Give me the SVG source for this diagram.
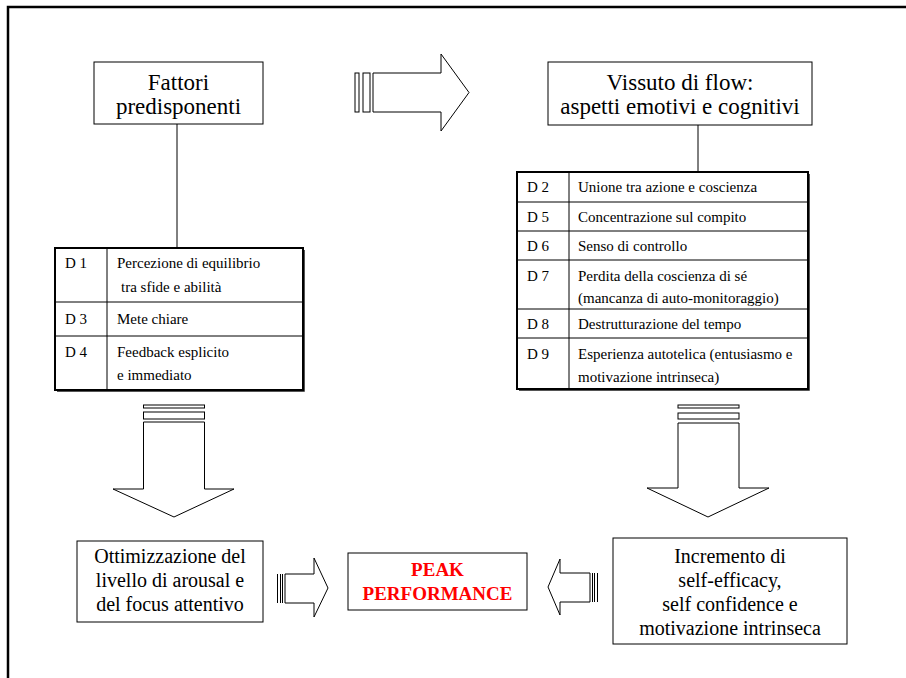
<svg xmlns="http://www.w3.org/2000/svg" width="906" height="678" viewBox="0 0 906 678">
<style>
.box{fill:#fff;stroke:#000;stroke-width:1}
.tbl{fill:#fff;stroke:#000;stroke-width:2}
.ln{stroke:#000;stroke-width:1;fill:none}
.arr{fill:#fff;stroke:#000;stroke-width:1}
.big{font-family:"Liberation Serif","Times New Roman","DejaVu Serif",serif;font-size:23px;fill:#000;text-anchor:middle}
.mid{font-family:"Liberation Serif","Times New Roman","DejaVu Serif",serif;font-size:20px;fill:#000;text-anchor:middle}
.t{font-family:"Liberation Serif","Times New Roman","DejaVu Serif",serif;font-size:15px;fill:#000}
.peak{font-family:"Liberation Serif","Times New Roman","DejaVu Serif",serif;font-size:19px;font-weight:bold;fill:#ff0000;text-anchor:middle}
</style>
<rect width="906" height="678" fill="#fff"/>
<rect x="8" y="7" width="1000" height="1000" fill="none" stroke="#000" stroke-width="2.5"/>

<g id="connectors">
<line class="ln" x1="177" y1="124" x2="177" y2="248"/>
<line class="ln" x1="698" y1="125" x2="698" y2="172"/>
<g id="arrow-top">
<rect class="arr" x="355" y="73" width="4" height="39"/>
<rect class="arr" x="363" y="73" width="7" height="39"/>
<path class="arr" d="M373,73 H441 V54 L469,92.5 L441,131 V112 H373 Z"/>
</g>
<g id="arrow-down-left">
<rect class="arr" x="143.5" y="405" width="61" height="3"/>
<rect class="arr" x="143.5" y="412" width="61" height="7"/>
<path class="arr" d="M143.5,422 H204.5 V489 H234 L174,517 L113,489 H143.5 Z"/>
</g>
<g id="arrow-down-right">
<rect class="arr" x="678" y="405" width="61" height="3"/>
<rect class="arr" x="678" y="413" width="61" height="6"/>
<path class="arr" d="M678,423 H739 V488 H769 L708,517 L647,488 H678 Z"/>
</g>
<g id="arrow-right-small">
<line class="ln" x1="277.5" y1="574" x2="277.5" y2="603"/>
<line class="ln" x1="280.5" y1="574" x2="280.5" y2="603"/>
<line class="ln" x1="282.5" y1="574" x2="282.5" y2="603"/>
<path class="arr" d="M285,574 H314 V558 L328,588 L314,617 V603 H285 Z"/>
</g>
<g id="arrow-left-small">
<line class="ln" x1="597.5" y1="573" x2="597.5" y2="602"/>
<line class="ln" x1="594.5" y1="573" x2="594.5" y2="602"/>
<line class="ln" x1="592.5" y1="573" x2="592.5" y2="602"/>
<path class="arr" d="M590,573 H560 V559 L548,587 L560,615 V602 H590 Z"/>
</g>
</g>

<g id="fattori">
<rect class="box" x="94" y="62" width="169" height="62"/>
<text class="big" x="178.5" y="90">Fattori</text>
<text class="big" x="178.5" y="114">predisponenti</text>
</g>

<g id="vissuto">
<rect class="box" x="548" y="62" width="264" height="63"/>
<text class="big" x="680" y="90">Vissuto di flow:</text>
<text class="big" x="680" y="114">aspetti emotivi e cognitivi</text>
</g>

<g id="tabella-sinistra">
<rect class="tbl" x="55" y="248" width="248" height="142"/>
<line x1="57" y1="391.5" x2="304.5" y2="391.5" stroke="#555" stroke-width="1"/>
<line x1="304.5" y1="250" x2="304.5" y2="391.5" stroke="#555" stroke-width="1"/>
<line class="ln" x1="107" y1="248" x2="107" y2="390"/>
<line class="ln" x1="55" y1="302" x2="303" y2="302"/>
<line class="ln" x1="55" y1="336" x2="303" y2="336"/>
<text class="t" x="65" y="268">D 1</text>
<text class="t" x="117" y="268">Percezione di equilibrio</text>
<text class="t" x="121" y="292">tra sfide e abilità</text>
<text class="t" x="65" y="324">D 3</text>
<text class="t" x="117" y="324">Mete chiare</text>
<text class="t" x="65" y="357">D 4</text>
<text class="t" x="117" y="357">Feedback esplicito</text>
<text class="t" x="117" y="380">e immediato</text>
</g>

<g id="tabella-destra">
<rect class="tbl" x="517" y="172" width="291" height="217"/>
<line x1="519" y1="390.5" x2="809.5" y2="390.5" stroke="#555" stroke-width="1"/>
<line x1="809.5" y1="174" x2="809.5" y2="390.5" stroke="#555" stroke-width="1"/>
<line class="ln" x1="569" y1="172" x2="569" y2="389"/>
<line class="ln" x1="517" y1="202" x2="808" y2="202"/>
<line class="ln" x1="517" y1="231" x2="808" y2="231"/>
<line class="ln" x1="517" y1="260" x2="808" y2="260"/>
<line class="ln" x1="517" y1="309" x2="808" y2="309"/>
<line class="ln" x1="517" y1="338" x2="808" y2="338"/>
<text class="t" x="527" y="192">D 2</text>
<text class="t" x="578" y="192">Unione tra azione e coscienza</text>
<text class="t" x="527" y="222">D 5</text>
<text class="t" x="578" y="222">Concentrazione sul compito</text>
<text class="t" x="527" y="251">D 6</text>
<text class="t" x="578" y="251">Senso di controllo</text>
<text class="t" x="527" y="281">D 7</text>
<text class="t" x="578" y="281">Perdita della coscienza di sé</text>
<text class="t" x="578" y="303">(mancanza di auto-monitoraggio)</text>
<text class="t" x="527" y="329">D 8</text>
<text class="t" x="578" y="329">Destrutturazione del tempo</text>
<text class="t" x="527" y="359">D 9</text>
<text class="t" x="578" y="359">Esperienza autotelica (entusiasmo e</text>
<text class="t" x="578" y="382">motivazione intrinseca)</text>
</g>

<g id="ottimizzazione">
<rect class="box" x="77" y="541" width="186" height="81"/>
<text class="mid" x="170" y="563">Ottimizzazione del</text>
<text class="mid" x="170" y="587">livello di arousal e</text>
<text class="mid" x="170" y="611">del focus attentivo</text>
</g>

<g id="peak">
<rect class="box" x="348" y="553" width="179" height="57"/>
<text class="peak" x="437.5" y="576">PEAK</text>
<text class="peak" x="437.5" y="600">PERFORMANCE</text>
</g>

<g id="incremento">
<rect class="box" x="613" y="538" width="234" height="106"/>
<text class="mid" x="730" y="563">Incremento di</text>
<text class="mid" x="730" y="587">self-efficacy,</text>
<text class="mid" x="730" y="611">self confidence e</text>
<text class="mid" x="730" y="635">motivazione intrinseca</text>
</g>
</svg>
